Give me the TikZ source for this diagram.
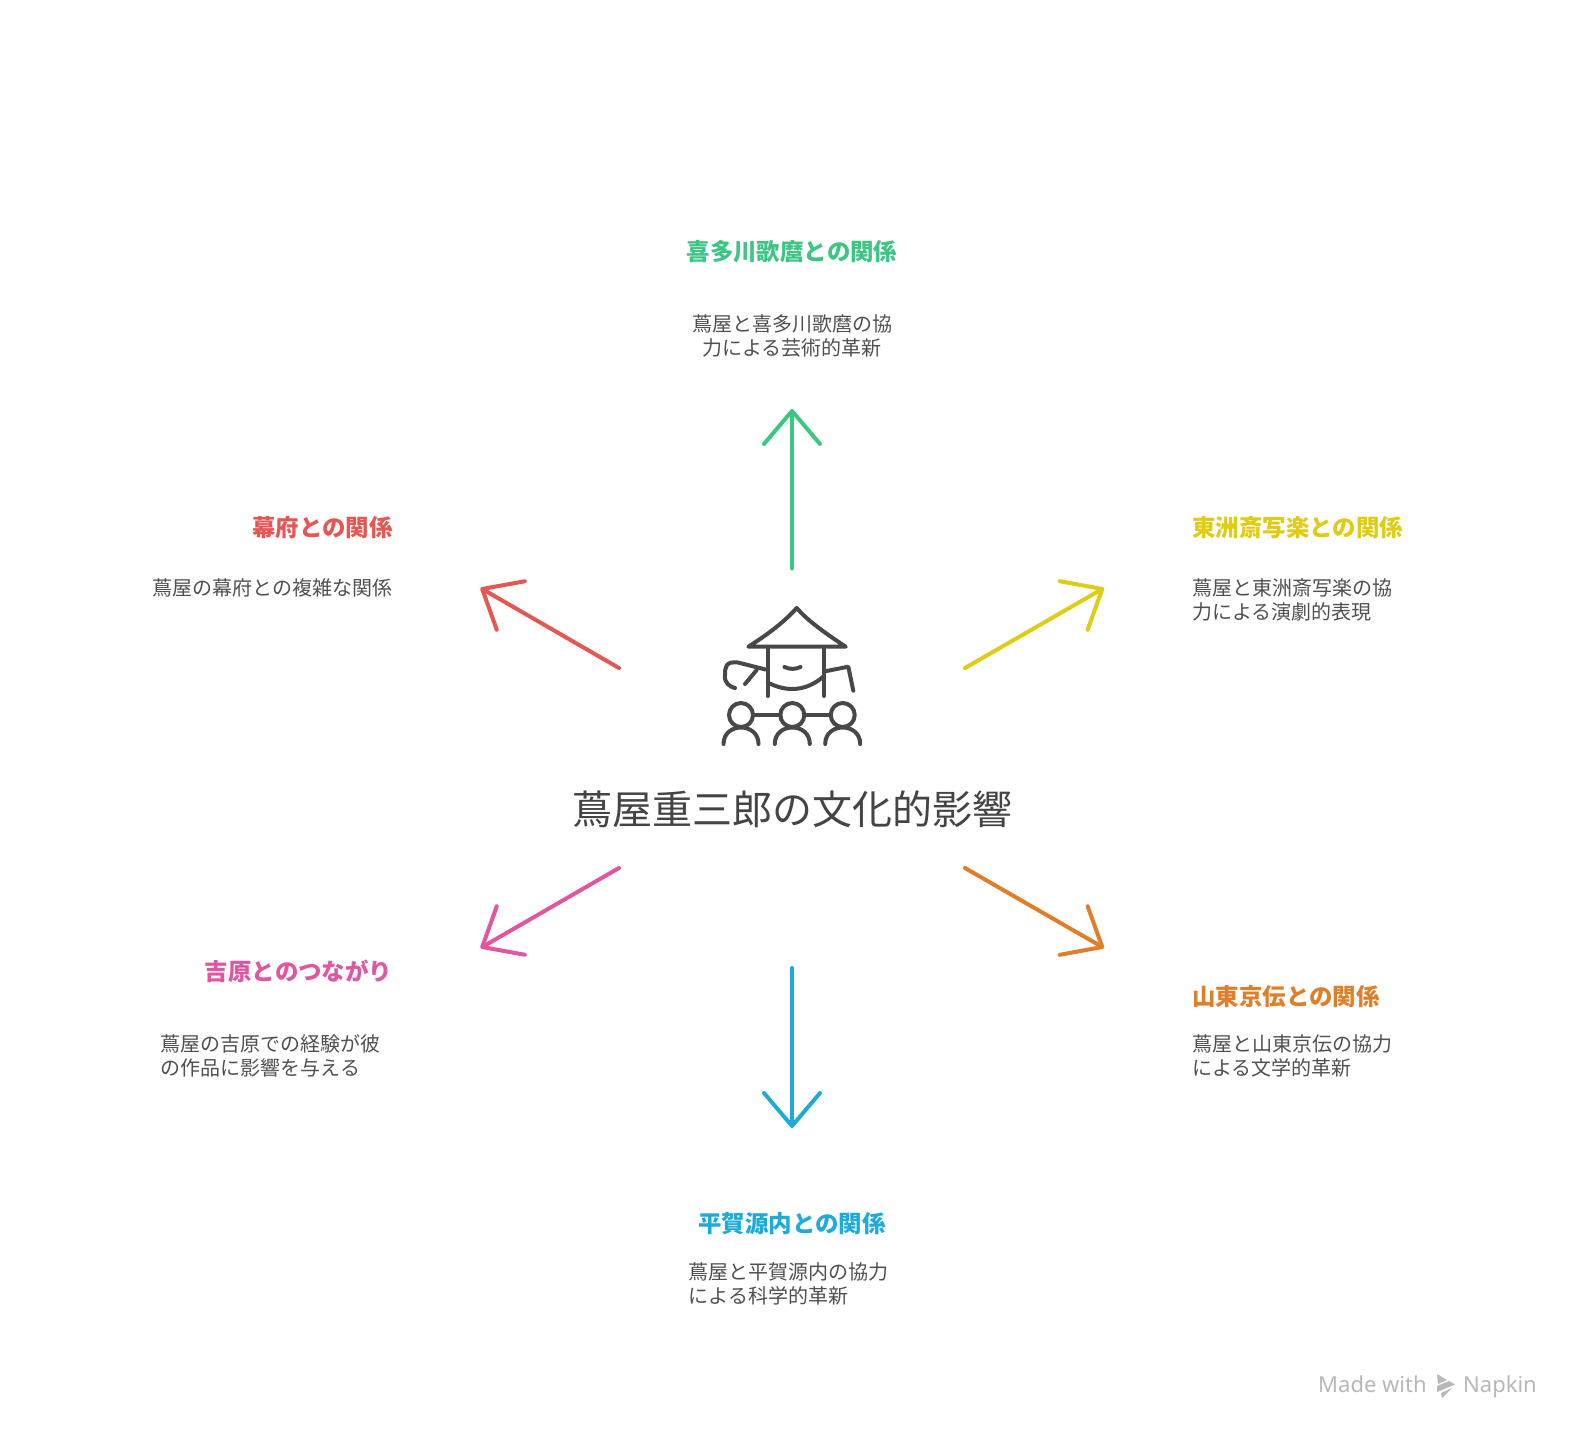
\documentclass[tikz,border=0pt]{standalone}
\usepackage{fontspec}
\setmainfont{Noto Sans CJK JP}
\newfontfamily\wmfont{Noto Sans}
\usetikzlibrary{arrows.meta}
\definecolor{cgreen}{HTML}{3CC583}
\definecolor{cyellow}{HTML}{E0CB15}
\definecolor{cred}{HTML}{E55753}
\definecolor{cpink}{HTML}{E2559F}
\definecolor{corange}{HTML}{E07F2A}
\definecolor{cblue}{HTML}{1EABDA}
\definecolor{cbody}{HTML}{505050}
\definecolor{chub}{HTML}{444444}
\definecolor{cicon}{HTML}{484848}
\definecolor{cmark}{HTML}{B8B8B8}
\tikzset{
  heading/.style={inner sep=0pt,font=\fontsize{23.45}{28}\selectfont\bfseries},
  bodytext/.style={inner sep=0pt,text=cbody,font=\fontsize{20}{24.3}\selectfont},
  spoke/.style={line width=4pt,line cap=round,line join=round,-{Straight Barb[length=33pt,width=56pt,line width=4pt,round]}},
  iconline/.style={draw=cicon,line width=4pt,line cap=round,line join=round},
  markword/.style={inner sep=0pt,anchor=base west,text=cmark,font=\wmfont\fontsize{22}{26}\selectfont},
}
\begin{document}
\begin{tikzpicture}[x=1pt,y=-1pt]
\useasboundingbox (0,0) rectangle (1584,1440);
\fill[white] (0,0) rectangle (1584,1440);

% icon
\draw[iconline] (748.3,646.7) .. controls (770,633) and (785,621) .. (796.7,608)
  .. controls (808,621) and (825,633) .. (845.7,646.7) -- cycle;
\draw[iconline] (767.7,646.7) -- (767.7,696);
\draw[iconline] (824,646.7) -- (824,696);
\draw[iconline] (784.5,667) .. controls (790,669.5) and (795,669.5) .. (800.5,667);
\draw[iconline] (767.7,682.5) .. controls (786,692) and (806,692) .. (824,676);
\draw[iconline] (765.5,669.5) -- (738,662.5) .. controls (725,661) and (725,668) .. (725,675)
  .. controls (724,683) and (730,687) .. (735,688);
\draw[iconline] (745,684) -- (756.7,670);
\draw[iconline] (824,671.5) -- (848.3,666.7) -- (853.3,690.7);
\foreach \cx in {741,792.3,842.7}{
  \draw[iconline] (\cx,715) circle[radius=12pt];
  \draw[iconline] (\cx-17.5,744) .. controls (\cx-17.5,722) and (\cx+17.5,722) .. (\cx+17.5,744);
}
\draw[iconline] (753,715) -- (780.3,715);
\draw[iconline] (804.3,715) -- (830.7,715);

% centre title
\node[inner sep=0pt,text=chub,font=\fontsize{40}{48}\selectfont] (hub) at (792,809) {蔦屋重三郎の文化的影響};

% spoke ends
\coordinate (gs) at (792,568.5); \coordinate (ge) at (792,409);
\coordinate (ys) at (965,668); \coordinate (ye) at (1104,588);
\coordinate (rs) at (619,668); \coordinate (re) at (480.5,588);
\coordinate (ps) at (619,868); \coordinate (pe) at (480.5,948);
\coordinate (os) at (965,868); \coordinate (oe) at (1104,948);
\coordinate (bs) at (792,968); \coordinate (be) at (792,1128);
\draw[spoke,cgreen] (gs) -- (ge);
\draw[spoke,cyellow] (ys) -- (ye);
\draw[spoke,cred] (rs) -- (re);
\draw[spoke,cpink] (ps) -- (pe);
\draw[spoke,corange] (os) -- (oe);
\draw[spoke,cblue] (bs) -- (be);

% labels
\node[heading,text=cgreen] (t1) at (792,252) {喜多川歌麿との関係};
\node[bodytext,align=center] (b1) at (792,336) {蔦屋と喜多川歌麿の協\\力による芸術的革新};
\node[heading,text=cyellow,anchor=west] (t2) at (1192,528) {東洲斎写楽との関係};
\node[bodytext,align=left,anchor=west] (b2) at (1192,600) {蔦屋と東洲斎写楽の協\\力による演劇的表現};
\node[heading,text=cred,anchor=east] (t3) at (393,528) {幕府との関係};
\node[bodytext,anchor=east] (b3) at (392.5,587.5) {蔦屋の幕府との複雑な関係};
\node[heading,text=cpink,anchor=east] (t4) at (392.5,971) {吉原とのつながり};
\node[bodytext,align=left,anchor=west] (b4) at (160.5,1055.5) {蔦屋の吉原での経験が彼\\の作品に影響を与える};
\node[heading,text=corange,anchor=west] (t5) at (1192,996.5) {山東京伝との関係};
\node[bodytext,align=left,anchor=west] (b5) at (1192,1055.7) {蔦屋と山東京伝の協力\\による文学的革新};
\node[heading,text=cblue] (t6) at (792,1224) {平賀源内との関係};
\node[bodytext,align=left,anchor=west] (b6) at (688.5,1284) {蔦屋と平賀源内の協力\\による科学的革新};

% watermark
\node[markword] (mw) at (1318,1392) {Made with};
\node[markword] (np) at (1463,1392) {Napkin};
\fill[cmark] (1437,1374) -- (1447,1380) -- (1438,1384) -- cycle;
\fill[cmark] (1437,1386) -- (1449,1381) -- (1455,1384.5) -- (1437,1392) -- cycle;
\fill[cmark] (1441,1393) -- (1452,1388) -- (1442,1398) -- cycle;
\end{tikzpicture}
\end{document}
